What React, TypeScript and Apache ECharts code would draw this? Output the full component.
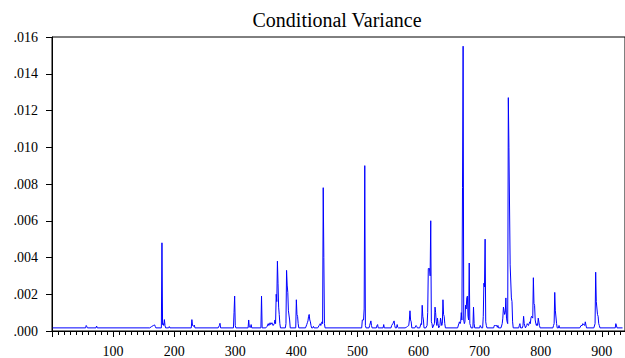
import React, { useEffect, useRef } from "react";
import * as echarts from "echarts";

const obs = [
  1, 55, 56, 57, 58, 72, 73, 74,
  160, 163, 166, 168, 169, 170, 179, 180, 181, 182, 183, 184, 185, 186, 191, 192, 193,
  228, 229, 230, 232, 233, 234, 272, 274, 275, 276,
  297, 298, 299, 300, 301, 321, 322, 323, 325, 326, 327, 342, 343, 344,
  350, 352, 354, 355, 357, 358, 360, 362, 364, 365, 366, 367, 368, 369, 370, 371, 372, 373, 374,
  382, 383, 384, 385, 386, 387, 388, 389, 390, 399, 400, 401, 402, 403, 404,
  415, 417, 418, 419, 420, 421, 422, 423, 424, 425, 427, 428, 429,
  435, 437, 438, 439, 440, 441, 442, 443, 444, 445, 446, 447,
  507, 508, 510, 511, 512, 513, 514, 519, 520, 522, 523, 524, 531, 532, 533, 534, 542, 543, 544,
  555, 556, 558, 560, 561, 562, 564, 565, 566, 567,
  578, 580, 582, 584, 585, 586, 587, 588, 589, 594, 596, 597, 598,
  602, 604, 605, 606, 607, 608, 609, 612, 614, 615, 616, 617, 618, 619, 620, 621, 622, 623,
  624, 626, 627, 628, 629, 630, 631, 632, 633, 635, 636, 637, 638, 639, 640, 641, 642, 643, 644,
  664, 666, 667, 668, 669, 670, 671, 672, 673, 674, 675, 676, 677, 678, 679, 680, 681, 682, 683, 684, 685, 686,
  689, 690, 691, 692, 700, 701, 702, 703,
  705, 706, 707, 708, 709, 710, 711, 712, 723, 724, 726, 728, 729, 730, 731,
  735, 737, 738, 739, 740, 741, 742, 743, 744, 745, 746, 747, 748, 749, 750, 751, 752, 753, 754, 755,
  764, 765, 766, 767, 770, 771, 772, 773, 774, 775,
  776, 777, 778, 779, 780, 781, 782, 783, 784, 785, 786, 787, 788, 789, 790, 791, 792, 793, 794, 795, 796, 797, 798, 799,
  820, 821, 822, 823, 824, 825, 826, 827, 829, 830, 831,
  864, 866, 868, 869, 870, 872, 873, 874, 875,
  887, 889, 890, 891, 892, 893, 894, 895, 896, 897,
  922, 923, 924, 925, 934,
];

const variance = [
  0.00017, 0.00017, 0.0003, 0.00024, 0.00017, 0.00017, 0.00027, 0.00017,
  0.00017, 0.00024, 0.0003, 0.00033, 0.00025, 0.00017, 0.00017, 0.0048, 0.00035, 0.0004, 0.0003, 0.00062, 0.0003, 0.00017, 0.00017, 0.00024, 0.00017,
  0.00017, 0.00062, 0.0003, 0.00026, 0.00032, 0.00017, 0.00017, 0.0003, 0.00042, 0.00017,
  0.00017, 0.001, 0.0019, 0.0003, 0.00017, 0.00017, 0.0006, 0.00022, 0.0002, 0.00035, 0.00017, 0.00017, 0.0019, 0.00017,
  0.00017, 0.00025, 0.0004, 0.0003, 0.00045, 0.00035, 0.00045, 0.0003, 0.0004, 0.0006, 0.0004, 0.002, 0.0016, 0.0038, 0.0026, 0.0013, 0.0009, 0.0004, 0.00017,
  0.00017, 0.0004, 0.0033, 0.0025, 0.0021, 0.0011, 0.0011, 0.0006, 0.00017, 0.00017, 0.0017, 0.0009, 0.0008, 0.0004, 0.00017,
  0.00017, 0.00035, 0.00045, 0.00055, 0.0008, 0.0009, 0.0006, 0.0005, 0.0003, 0.00017, 0.00017, 0.00025, 0.00017,
  0.00017, 0.00028, 0.00035, 0.0004, 0.0003, 0.0004, 0.0005, 0.0004, 0.0078, 0.004, 0.0004, 0.00017,
  0.00017, 0.0006, 0.0006, 0.0012, 0.009, 0.0003, 0.00017, 0.00017, 0.0003, 0.00055, 0.0003, 0.00017, 0.00017, 0.0003, 0.00035, 0.00017, 0.00017, 0.00035, 0.00017,
  0.00017, 0.0003, 0.0004, 0.00055, 0.0003, 0.00017, 0.00017, 0.00035, 0.0002, 0.00017,
  0.00017, 0.0002, 0.00025, 0.0003, 0.0006, 0.0011, 0.0006, 0.0005, 0.00017, 0.00017, 0.0003, 0.00025, 0.00017,
  0.00017, 0.0004, 0.00035, 0.0014, 0.0008, 0.0006, 0.00017, 0.00017, 0.0003, 0.001, 0.0034, 0.0034, 0.0034, 0.003, 0.006, 0.0005, 0.0004, 0.00017,
  0.00017, 0.0004, 0.0013, 0.001, 0.0005, 0.0003, 0.0007, 0.0004, 0.00017, 0.0003, 0.0007, 0.0005, 0.0003, 0.0004, 0.0017, 0.0009, 0.0008, 0.0004, 0.00017,
  0.00017, 0.0004, 0.0005, 0.0004, 0.0005, 0.001, 0.0006, 0.0078, 0.0155, 0.0006, 0.0004, 0.0005, 0.0014, 0.0012, 0.0018, 0.0019, 0.0008, 0.0006, 0.0037, 0.0004, 0.0003, 0.00017,
  0.00017, 0.0013, 0.0004, 0.00017, 0.00017, 0.0003, 0.0003, 0.00017,
  0.00017, 0.0008, 0.0026, 0.0024, 0.005, 0.0005, 0.0003, 0.00017, 0.00017, 0.0003, 0.0003, 0.0003, 0.0002, 0.0003, 0.00017,
  0.00017, 0.0004, 0.0007, 0.0013, 0.0011, 0.0009, 0.001, 0.0018, 0.0007, 0.0005, 0.0004, 0.0127, 0.01, 0.01, 0.0036, 0.0036, 0.0018, 0.0016, 0.0005, 0.00017,
  0.00017, 0.0003, 0.0004, 0.00017, 0.00017, 0.0003, 0.0008, 0.0004, 0.0004, 0.00017,
  0.00017, 0.0003, 0.0004, 0.0004, 0.0003, 0.0004, 0.0005, 0.0004, 0.0007, 0.0008, 0.0008, 0.0007, 0.0029, 0.0015, 0.0014, 0.0006, 0.0004, 0.0003, 0.0004, 0.0003, 0.0007, 0.0007, 0.0003, 0.00017,
  0.00017, 0.0003, 0.0004, 0.0021, 0.0011, 0.0011, 0.0004, 0.00017, 0.00017, 0.0003, 0.00017,
  0.00017, 0.0003, 0.0003, 0.0004, 0.0004, 0.0003, 0.0005, 0.0005, 0.00017,
  0.00017, 0.0004, 0.0032, 0.0016, 0.0016, 0.0009, 0.0008, 0.0004, 0.0003, 0.00017,
  0.00017, 0.0004, 0.0004, 0.00017, 0.00017,
];

const yTicks = [0, 0.002, 0.004, 0.006, 0.008, 0.01, 0.012, 0.014, 0.016];
const xLabelValues = [100, 200, 300, 400, 500, 600, 700, 800, 900];
const TITLE = "Conditional Variance";

const FONT = "Liberation Serif";

export default function App() {
  const ref = useRef<HTMLDivElement>(null);
  useEffect(() => {
    if (!ref.current) return;
    const chart = echarts.init(ref.current, undefined, { renderer: "svg" });
    const data = obs.map((x, i) => [x, variance[i]]);
    chart.setOption({
      animation: false,
      backgroundColor: "#ffffff",
      graphic: [
        {
          type: "text",
          x: 337,
          y: 20,
          style: {
            text: TITLE,
            textAlign: "center",
            textVerticalAlign: "middle",
            fontFamily: FONT,
            fontSize: 20,
            fill: "#000",
          },
        },
      ],
      grid: {
        left: 52,
        right: 0,
        top: 37,
        bottom: 27,
        show: true,
        borderColor: "#000",
        borderWidth: 1,
        backgroundColor: "transparent",
      },
      xAxis: [
        {
          type: "value",
          min: 0,
          max: 938,
          interval: 10,
          axisLine: { show: true, lineStyle: { color: "#000", width: 1 } },
          axisTick: { show: true, length: 4, lineStyle: { color: "#000" } },
          axisLabel: { show: false },
          splitLine: { show: false },
        },
        {
          type: "value",
          min: 0,
          max: 938,
          interval: 100,
          position: "bottom",
          axisLine: { show: false },
          axisTick: { show: true, length: 6, lineStyle: { color: "#000" } },
          axisLabel: {
            show: true,
            margin: 13,
            showMaxLabel: false,
            fontFamily: FONT,
            fontSize: 14,
            color: "#000",
            formatter: (v: number) => (xLabelValues.includes(v) ? String(v) : ""),
          },
          splitLine: { show: false },
        },
      ],
      yAxis: {
        type: "value",
        min: yTicks[0],
        max: yTicks[yTicks.length - 1],
        interval: 0.002,
        axisLine: { show: true, lineStyle: { color: "#000", width: 1 } },
        axisTick: { show: true, length: 6, lineStyle: { color: "#000" } },
        axisLabel: {
          margin: 14,
          fontFamily: FONT,
          fontSize: 14,
          color: "#000",
          formatter: (v: number) => v.toFixed(3).replace(/^0/, ""),
        },
        splitLine: { show: false },
      },
      series: [
        {
          type: "line",
          xAxisIndex: 0,
          data,
          showSymbol: false,
          symbol: "none",
          lineStyle: { color: "#0000ff", width: 1 },
          itemStyle: { color: "#0000ff" },
        },
      ],
    });
    return () => chart.dispose();
  }, []);
  return (
    <div
      ref={ref}
      style={{ position: "fixed", left: 0, top: 0, width: 625, height: 358, background: "#fff" }}
    />
  );
}
